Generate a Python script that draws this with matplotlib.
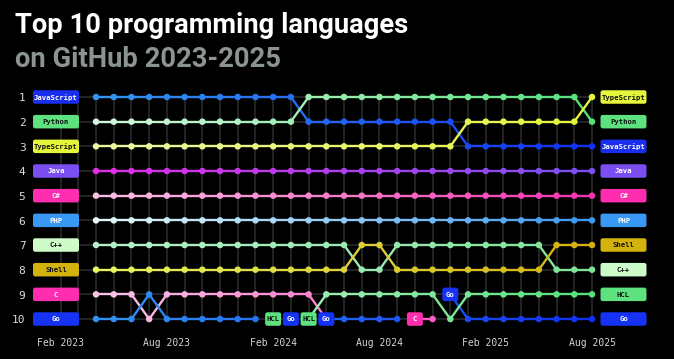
import matplotlib
matplotlib.use('Agg')
import matplotlib.pyplot as plt
import numpy as np
from matplotlib.patches import FancyBboxPatch
from matplotlib.collections import LineCollection
from matplotlib.colors import to_rgb

# ---------------- data ----------------
N = None
all_months = ['Feb 2023', 'Mar 2023', 'Apr 2023', 'May 2023', 'Jun 2023', 'Jul 2023',
              'Aug 2023', 'Sep 2023', 'Oct 2023', 'Nov 2023', 'Dec 2023', 'Jan 2024',
              'Feb 2024', 'Mar 2024', 'Apr 2024', 'May 2024', 'Jun 2024', 'Jul 2024',
              'Aug 2024', 'Sep 2024', 'Oct 2024', 'Nov 2024', 'Dec 2024', 'Jan 2025',
              'Feb 2025', 'Mar 2025', 'Apr 2025', 'May 2025', 'Jun 2025', 'Jul 2025',
              'Aug 2025']
data_months = all_months[2:]          # Apr 2023 .. Aug 2025
tick_labels = ['Feb 2023', 'Aug 2023', 'Feb 2024', 'Aug 2024', 'Feb 2025', 'Aug 2025']
ranks = [1, 2, 3, 4, 5, 6, 7, 8, 9, 10]

javascript = [1, 1, 1, 1, 1, 1, 1, 1, 1, 1, 1, 1, 2, 2, 2, 2, 2, 2, 2, 2, 2, 3, 3, 3, 3, 3, 3, 3, 3]
python_    = [2, 2, 2, 2, 2, 2, 2, 2, 2, 2, 2, 2, 1, 1, 1, 1, 1, 1, 1, 1, 1, 1, 1, 1, 1, 1, 1, 1, 2]
typescript = [3, 3, 3, 3, 3, 3, 3, 3, 3, 3, 3, 3, 3, 3, 3, 3, 3, 3, 3, 3, 3, 2, 2, 2, 2, 2, 2, 2, 1]
java       = [4, 4, 4, 4, 4, 4, 4, 4, 4, 4, 4, 4, 4, 4, 4, 4, 4, 4, 4, 4, 4, 4, 4, 4, 4, 4, 4, 4, 4]
csharp     = [5, 5, 5, 5, 5, 5, 5, 5, 5, 5, 5, 5, 5, 5, 5, 5, 5, 5, 5, 5, 5, 5, 5, 5, 5, 5, 5, 5, 5]
php        = [6, 6, 6, 6, 6, 6, 6, 6, 6, 6, 6, 6, 6, 6, 6, 6, 6, 6, 6, 6, 6, 6, 6, 6, 6, 6, 6, 6, 6]
cpp        = [7, 7, 7, 7, 7, 7, 7, 7, 7, 7, 7, 7, 7, 7, 7, 8, 8, 7, 7, 7, 7, 7, 7, 7, 7, 7, 8, 8, 8]
shell      = [8, 8, 8, 8, 8, 8, 8, 8, 8, 8, 8, 8, 8, 8, 8, 7, 7, 8, 8, 8, 8, 8, 8, 8, 8, 8, 7, 7, 7]
c_lang     = [9, 9, 9, 10, 9, 9, 9, 9, 9, 9, 9, 9, 9, 10, N, N, N, N, 10, 10, N, N, N, N, N, N, N, N, N]
go         = [10, 10, 10, 9, 10, 10, 10, 10, 10, 10, N, 10, N, 10, 10, 10, 10, 10, N, N, 9, 10, 10, 10, 10, 10, 10, 10, 10]
hcl        = [N, N, N, N, N, N, N, N, N, N, 10, N, 10, 9, 9, 9, 9, 9, 9, 9, 10, 9, 9, 9, 9, 9, 9, 9, 9]

names = ['JavaScript', 'Python', 'TypeScript', 'Java', 'C#', 'PHP', 'C++', 'Shell', 'C', 'Go', 'HCL']
series = [javascript, python_, typescript, java, csharp, php, cpp, shell, c_lang, go, hcl]

# ---------------- style ----------------
grad_start = {'JavaScript': '#3396f0', 'Python': '#d4f7dc', 'TypeScript': '#ecf7a4',
              'Java': '#e22ee6', 'C#': '#f9c0e4', 'PHP': '#e4f8f6', 'C++': '#b6f0c8',
              'Shell': '#e6f560', 'C': '#f9c6ea', 'Go': '#3193f0', 'HCL': '#d4f7dc'}
grad_end = {'JavaScript': '#0f30f5', 'Python': '#55e07c', 'TypeScript': '#e2f53a',
            'Java': '#7a50f0', 'C#': '#f233b0', 'PHP': '#3a98f0', 'C++': '#7ee39a',
            'Shell': '#d4b010', 'C': '#ff2daf', 'Go': '#1030f5', 'HCL': '#55e07c'}
box_color = {'JavaScript': '#1a2ef0', 'Python': '#5ee27f', 'TypeScript': '#e4f53c',
             'Java': '#7a4ef0', 'C#': '#ff2daf', 'PHP': '#3a98f5', 'C++': '#cdfcc8',
             'Shell': '#d4b30e', 'C': '#ff2daf', 'Go': '#1532f5', 'HCL': '#5ee27f'}
dark_text = {'Python', 'TypeScript', 'C++', 'Shell', 'HCL'}

BG = '#000000'
GRID = '#262626'
MONO = 'DejaVu Sans Mono'

fig = plt.figure(figsize=(6.74, 3.59), dpi=100, facecolor=BG)
ax = fig.add_axes([0, 0, 1, 1])
ax.set_facecolor(BG)
ax.axis('off')

# pixel mapping of the layout (x: month index, y: rank)
px_x0, px_dx = 60.6, 17.714
px_y1, px_dy = 97.0, 24.67
W, H = 674, 359
ax.set_xlim(-px_x0 / px_dx, (W - px_x0) / px_dx)
ax.set_ylim(1 + (H - px_y1) / px_dy, 1 - px_y1 / px_dy)

nm = len(all_months)
off = all_months.index(data_months[0])
T = len(data_months) - 1

# grid
for m in range(nm):
    ax.plot([m, m], [ranks[0], ranks[-1]], color=GRID, lw=1.3, zorder=1, solid_capstyle='butt')
for r in ranks:
    ax.plot([0, nm - 1], [r, r], color=GRID, lw=1.3, zorder=1, solid_capstyle='butt')


def mix(c0, c1, t):
    a, b = np.array(to_rgb(c0)), np.array(to_rgb(c1))
    return tuple(a + (b - a) * t)


def box(xc, yc, wpx, text, name, z=6):
    w = wpx / px_dx
    h = 13.5 / px_dy
    p = FancyBboxPatch((xc - w / 2, yc - h / 2), w, h,
                       boxstyle='round,pad=0,rounding_size=0.13',
                       mutation_aspect=px_dx / px_dy,
                       fc=box_color[name], ec='none', zorder=z)
    ax.add_patch(p)
    ax.text(xc, yc + 0.01, text, ha='center', va='center', fontsize=5.2,
            family=MONO, fontweight='bold',
            color='#111111' if name in dark_text else 'white', zorder=z + 1)


entry_boxes = []
for k, (name, vals) in enumerate(zip(names, series)):
    c0, c1 = grad_start[name], grad_end[name]
    segs, cols = [], []
    for i in range(len(vals) - 1):
        if vals[i] is not None and vals[i + 1] is not None:
            segs.append([(i + off, vals[i]), (i + 1 + off, vals[i + 1])])
            cols.append(mix(c0, c1, (i + 0.5) / T))
    ax.add_collection(LineCollection(segs, colors=cols, linewidths=1.7, zorder=3 + k * 0.01,
                                     capstyle='round'))
    xs, ys, dc = [], [], []
    for i, v in enumerate(vals):
        if v is None:
            continue
        if i > 0 and vals[i - 1] is None:
            entry_boxes.append((i + off, v, name))
            continue
        xs.append(i + off)
        ys.append(v)
        dc.append(mix(c0, c1, i / T))
    ax.scatter(xs, ys, s=22, c=dc, zorder=4 + k * 0.01, linewidths=0)

for (x, v, name) in entry_boxes:
    box(x, v, 16, name, name, z=8)

# side labels
left_x = (56 - px_x0) / px_dx
right_x = (623.5 - px_x0) / px_dx
num_x = (25.5 - px_x0) / px_dx
first = {}
last = {}
for name, vals in zip(names, series):
    if vals[0] is not None:
        first[vals[0]] = name
    if vals[-1] is not None:
        last[vals[-1]] = name
for r in ranks:
    ax.text(num_x, r + 0.05, str(r), ha='right', va='center', fontsize=8,
            family=MONO, color='#dddddd')
    box(left_x, r, 46, first[r], first[r])
    box(right_x, r, 46, last[r], last[r])

# time axis labels
tick_y = 1 + (343 - px_y1) / px_dy
for lab in tick_labels:
    ax.text(all_months.index(lab), tick_y, lab, ha='center', va='center',
            fontsize=7, family=MONO, color='#d4d4d4')

# title
TITLE_FONT = ['Roboto', 'DejaVu Sans']
t1 = fig.text(15 / W, 1 - 33 / H, 'Top 10 programming languages', fontsize=20,
              fontweight='bold', family=TITLE_FONT, color='white', va='baseline')
fig.canvas.draw()
wpx = t1.get_window_extent().width
fs = 20 * 393 / wpx
t1.set_fontsize(fs)
fig.text(15 / W, 1 - 67 / H, 'on GitHub 2023-2025', fontsize=fs,
         fontweight='bold', family=TITLE_FONT, color='#8b948f', va='baseline')

fig.savefig('out.png', dpi=100, facecolor=BG)
